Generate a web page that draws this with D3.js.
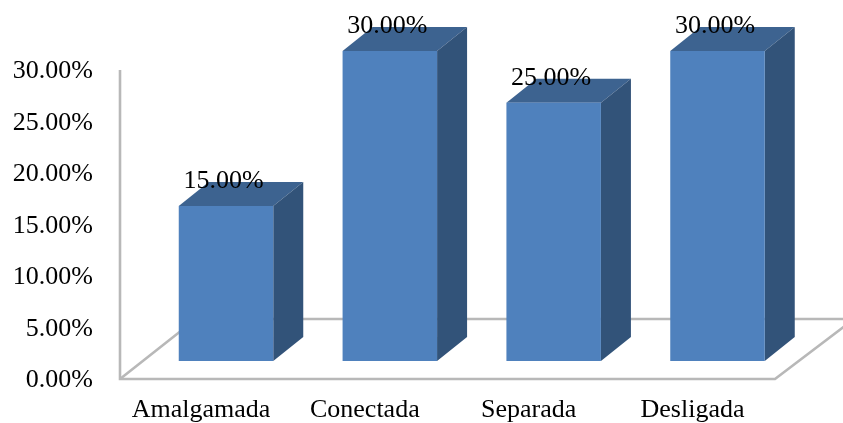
<!DOCTYPE html>
<html>
<head>
<meta charset="utf-8">
<script src="https://cdnjs.cloudflare.com/ajax/libs/d3/7.8.5/d3.min.js"></script>
<style>
	body { margin: 0; background: #fff; }
	text { font-family: "Liberation Serif", serif; fill: #000; }
</style>
</head>
<body>
<svg id="chart" width="843" height="423"></svg>
<script>

var categories = ["Amalgamada", "Conectada", "Separada", "Desligada"];
var values = [0.15, 0.30, 0.25, 0.30];
var ticks = [0, 0.05, 0.10, 0.15, 0.20, 0.25, 0.30];

// depth of the 3d bars and of the floor
var DEPTH_X = 30;
var DEPTH_Y = 24;
var BAR_WIDTH = 94.5;

var svg = d3.select("#chart");

// the bars stand in the middle of the floor, so they get their own y scale
var axisY = d3.scaleLinear().domain([0, 0.30]).range([379, 70]);
var barY = d3.scaleLinear().domain([0, 0.30]).range([361, 51]);
var x = d3.scalePoint().domain(categories).range([226, 717.5]);

var percent = d3.format(".2%");

var defs = svg.append("defs");
defs.append("filter").attr("id", "soft")
	.append("feGaussianBlur").attr("stdDeviation", 0.5);
defs.append("filter").attr("id", "softText")
	.append("feGaussianBlur").attr("stdDeviation", 0.3);

// walls and floor
var walls = svg.append("g")
	.attr("fill", "none")
	.attr("stroke", "#b8b8b8")
	.attr("stroke-width", 2.6)
	.attr("filter", "url(#soft)");

walls.append("path").attr("d", "M120,70 V379 H775 L854,319");
walls.append("path").attr("d", "M120,379 L196,319 H843");

// tick labels
var labels = svg.append("g").attr("filter", "url(#softText)");

labels.selectAll(".tick-label")
	.data(ticks)
	.enter().append("text")
	.attr("class", "tick-label")
	.attr("x", 93)
	.attr("y", function(d) { return axisY(d) + 8; })
	.attr("text-anchor", "end")
	.style("font-size", "26px")
	.text(percent);

// bars: front, top and side face
var bars = svg.selectAll(".bar")
	.data(values)
	.enter().append("g")
	.attr("class", "bar")
	.attr("filter", "url(#soft)");

function left(d, i) { return x(categories[i]) - BAR_WIDTH / 2; }
function right(d, i) { return x(categories[i]) + BAR_WIDTH / 2; }

bars.append("path")
	.attr("fill", "#3d6390")
	.attr("d", function(d, i) {
		var top = barY(d);
		return "M" + left(d, i) + "," + top +
			" l" + DEPTH_X + "," + (-DEPTH_Y) +
			" H" + (right(d, i) + DEPTH_X) +
			" l" + (-DEPTH_X) + "," + DEPTH_Y + " Z";
	});

bars.append("path")
	.attr("fill", "#325279")
	.attr("d", function(d, i) {
		var top = barY(d);
		return "M" + right(d, i) + "," + top +
			" l" + DEPTH_X + "," + (-DEPTH_Y) +
			" V" + (barY(0) - DEPTH_Y) +
			" l" + (-DEPTH_X) + "," + DEPTH_Y + " Z";
	});

bars.append("rect")
	.attr("fill", "#4f81bd")
	.attr("x", left)
	.attr("y", function(d) { return barY(d); })
	.attr("width", BAR_WIDTH)
	.attr("height", function(d) { return barY(0) - barY(d); });

// value labels
var top_labels = svg.append("g").attr("filter", "url(#softText)");

top_labels.selectAll(".value-label")
	.data(values)
	.enter().append("text")
	.attr("class", "value-label")
	.attr("x", function(d, i) { return x(categories[i]) - 2.5; })
	.attr("y", function(d) { return barY(d) - 18; })
	.attr("text-anchor", "middle")
	.style("font-size", "26px")
	.text(percent);

// category labels
labels.selectAll(".cat-label")
	.data(categories)
	.enter().append("text")
	.attr("class", "cat-label")
	.attr("x", function(d) { return x(d) - 25; })
	.attr("y", 417)
	.attr("text-anchor", "middle")
	.style("font-size", "26px")
	.text(function(d) { return d; });

</script>
</body>
</html>
